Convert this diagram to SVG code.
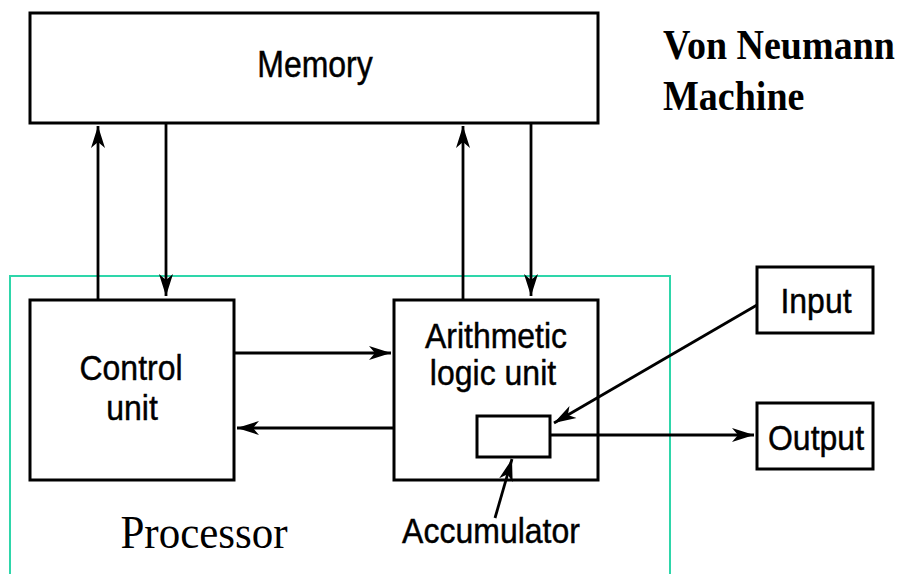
<svg xmlns="http://www.w3.org/2000/svg" width="903" height="574" viewBox="0 0 903 574">
<style>
.box{fill:#fff;stroke:#000;stroke-width:3}
.lbl{font-family:"Liberation Sans",Arial,sans-serif;font-size:32px;fill:#000;stroke:#000;stroke-width:0.4;text-anchor:middle}
.ttl{font-family:"Liberation Serif","Times New Roman",serif;font-size:38px;font-weight:bold;fill:#000}
.proc{font-family:"Liberation Serif","Times New Roman",serif;font-size:43px;fill:#000;text-anchor:middle}
.wire{stroke:#000;stroke-width:2.8;fill:none;marker-end:url(#ah)}
</style>
<defs>
<marker id="ah" markerUnits="userSpaceOnUse" viewBox="0 -8 23 16" refX="22" refY="0" markerWidth="23" markerHeight="16" orient="auto">
<path d="M22,0 L0,-7 L6,0 L0,7 Z" fill="#000"/>
</marker>
</defs>
<rect width="903" height="574" fill="#fff"/>
<g id="processor">
<rect x="10" y="276" width="660" height="310" fill="none" stroke="#2ed6aa" stroke-width="2"/>
<text class="proc" transform="translate(204,548) scale(1,1.08)">Processor</text>
</g>
<g id="memory">
<rect class="box" x="30" y="13" width="568" height="110"/>
<text class="lbl" transform="translate(315,77) scale(1,1.15)">Memory</text>
</g>
<g id="title">
<text class="ttl" transform="translate(663,59) scale(1,1.1)">Von Neumann</text>
<text class="ttl" transform="translate(663,110) scale(1,1.1)">Machine</text>
</g>
<g id="control">
<rect class="box" x="30" y="300" width="204" height="180"/>
<text class="lbl" transform="translate(131,380) scale(1,1.12)">Control</text>
<text class="lbl" transform="translate(132,420) scale(1,1.12)">unit</text>
</g>
<g id="alu">
<rect class="box" x="394" y="300" width="204" height="180"/>
<text class="lbl" transform="translate(496,348) scale(1,1.12)">Arithmetic</text>
<text class="lbl" transform="translate(493,385) scale(1,1.12)">logic unit</text>
</g>
<g id="accumulator">
<rect class="box" x="477" y="416" width="73" height="41"/>
<text class="lbl" transform="translate(491,543) scale(1,1.12)">Accumulator</text>
</g>
<g id="input">
<rect class="box" x="757" y="267" width="116" height="66"/>
<text class="lbl" transform="translate(816,313) scale(1,1.12)">Input</text>
</g>
<g id="output">
<rect class="box" x="757" y="403" width="116" height="66"/>
<text class="lbl" transform="translate(816,450) scale(1,1.12)">Output</text>
</g>
<g id="connectors">
<line class="wire" x1="98" y1="300" x2="98" y2="126"/>
<line class="wire" x1="166" y1="123" x2="166" y2="296"/>
<line class="wire" x1="463" y1="300" x2="463" y2="126"/>
<line class="wire" x1="531" y1="123" x2="531" y2="296"/>
<line class="wire" x1="234" y1="353" x2="391" y2="353"/>
<line class="wire" x1="394" y1="428" x2="237" y2="428"/>
<line class="wire" x1="757" y1="305" x2="554" y2="423" stroke-width="3.2"/>
<line class="wire" x1="550" y1="435" x2="754" y2="435"/>
<line class="wire" x1="495" y1="518" x2="512" y2="459" stroke-width="2"/>
</g>
</svg>
